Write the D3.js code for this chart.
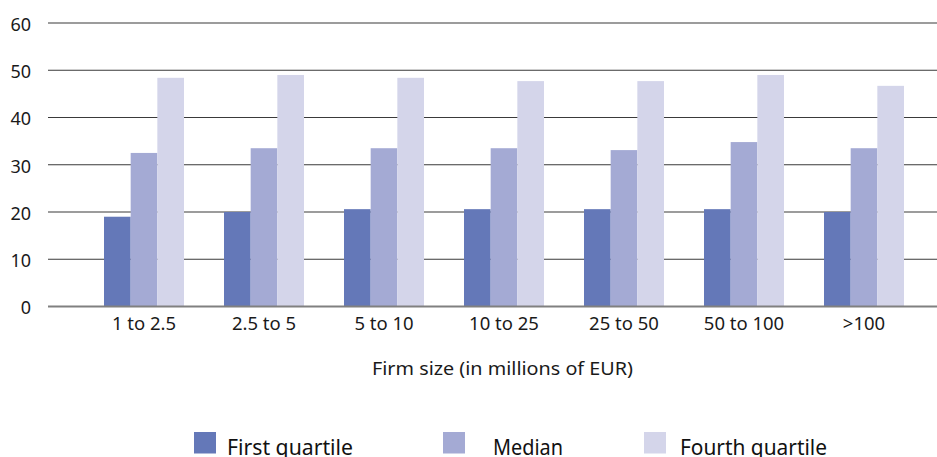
<!DOCTYPE html>
<html>
<head>
<meta charset="utf-8">
<script src="https://cdn.jsdelivr.net/npm/d3@7"></script>
<style>
  html, body { margin: 0; padding: 0; background: #fff; }
  svg { display: block; }
</style>
</head>
<body>
<svg id="chart" width="937" height="457"></svg>
<script>
const categories = ["1 to 2.5", "2.5 to 5", "5 to 10", "10 to 25", "25 to 50", "50 to 100", ">100"];
const seriesNames = ["First quartile", "Median", "Fourth quartile"];
const firstQuartile = [19.0, 20.0, 20.6, 20.6, 20.6, 20.6, 20.0];
const median = [32.5, 33.5, 33.5, 33.5, 33.1, 34.8, 33.5];
const fourthQuartile = [48.4, 49.0, 48.4, 47.7, 47.7, 49.0, 46.7];
const yTicks = [0, 10, 20, 30, 40, 50, 60];
const xTitle = "Firm size (in millions of EUR)";
const colors = ["#6478b8", "#a4aad4", "#d4d5ea"];

const seriesValues = [firstQuartile, median, fourthQuartile];
const data = categories.map((c, i) => ({
  cat: c,
  vals: seriesNames.map((s, j) => ({ key: s, value: seriesValues[j][i], idx: j }))
}));

const svg = d3.select("#chart");
const font = "'Noto Sans', 'Open Sans', sans-serif";

const y = d3.scaleLinear().domain([0, 60]).range([306.5, 23]);
const x0 = d3.scaleBand().domain(categories).range([84, 924]).paddingInner(1/3).paddingOuter(1/6);
const x1 = d3.scaleBand().domain(seriesNames).range([0, x0.bandwidth()]).padding(0);
const color = d3.scaleOrdinal().domain(seriesNames).range(colors);

// gridlines
const grid = svg.append("g");
grid.selectAll("line").data(yTicks.filter(t => t !== 0)).join("line")
  .attr("x1", 48).attr("x2", 937)
  .attr("y1", d => y(d)).attr("y2", d => y(d))
  .attr("stroke", "#3a3a3a").attr("stroke-width", 1.1);

// bars
const groups = svg.append("g").selectAll("g").data(data).join("g")
  .attr("transform", d => `translate(${x0(d.cat)},0)`);
groups.selectAll("rect").data(d => d.vals).join("rect")
  .attr("x", d => x1(d.key))
  .attr("width", x1.bandwidth())
  .attr("y", d => y(d.value))
  .attr("height", d => y(0) - y(d.value))
  .attr("fill", d => color(d.key));

// zero line
svg.append("line").attr("x1", 48).attr("x2", 937)
  .attr("y1", y(0)).attr("y2", y(0))
  .attr("stroke", "#808080").attr("stroke-width", 2);

// y axis labels
const yAxis = d3.axisLeft(y).tickValues(yTicks).tickSize(0).tickPadding(0).tickFormat(d3.format("d"));
const yg = svg.append("g").attr("transform", "translate(31,1.5)").call(yAxis);
yg.select(".domain").remove();
yg.selectAll("text").attr("font-family", font).attr("font-size", 18).attr("fill", "#1a1a1a");

// x axis labels
const xAxis = d3.axisBottom(x0).tickSize(0).tickPadding(0);
const xg = svg.append("g").attr("transform", "translate(0,317)").call(xAxis);
xg.select(".domain").remove();
xg.selectAll("text").attr("font-family", font).attr("font-size", 18.5).attr("fill", "#1a1a1a");

// x title
svg.append("text").attr("x", 372).attr("y", 375)
  .attr("font-family", font).attr("font-size", 18).attr("fill", "#1a1a1a")
  .attr("textLength", 261).attr("lengthAdjust", "spacingAndGlyphs")
  .text(xTitle);

// legend
const legendX = [194, 443, 644];
const legendTextX = [227, 493, 680];
const legendTextW = [126, 70, 147];
const lg = svg.append("g").selectAll("g").data(seriesNames).join("g");
lg.append("rect")
  .attr("x", (d, i) => legendX[i]).attr("y", 432)
  .attr("width", 22).attr("height", 21.5)
  .attr("fill", d => color(d));
lg.append("text")
  .attr("x", (d, i) => legendTextX[i]).attr("y", 455)
  .attr("font-family", font).attr("font-size", 22).attr("fill", "#111")
  .attr("textLength", (d, i) => legendTextW[i]).attr("lengthAdjust", "spacingAndGlyphs")
  .text(d => d);
</script>
</body>
</html>
